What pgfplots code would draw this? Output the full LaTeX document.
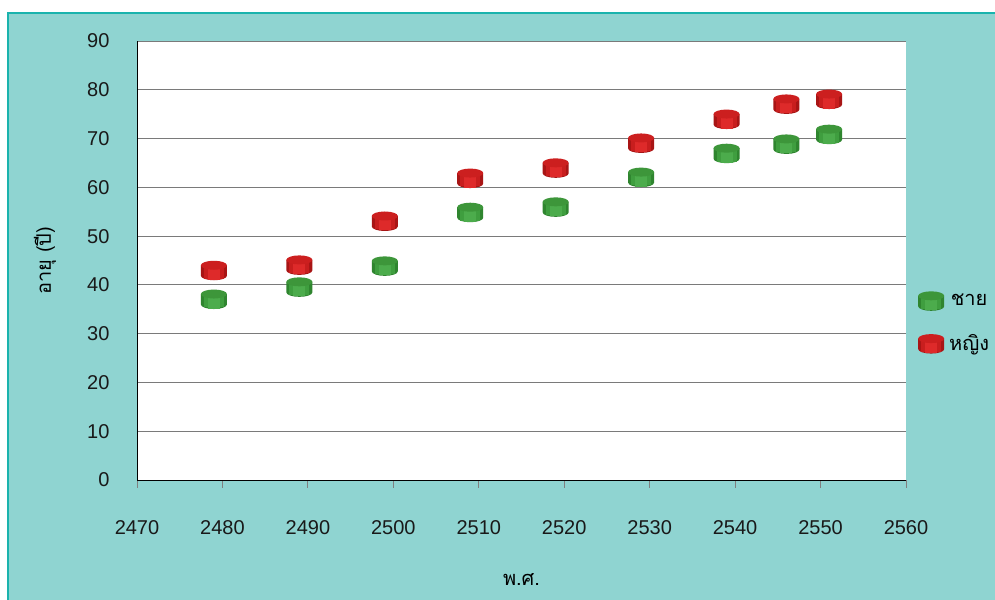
\documentclass[border=0pt]{standalone}
\usepackage{pgfplots}
\pgfplotsset{compat=1.18}
\usepackage{fontspec}
\setmainfont{Liberation Sans}
\newfontfamily\thai[Script=Thai]{Loma}
\definecolor{bgteal}{HTML}{8FD4D1}
\definecolor{frameteal}{HTML}{1AB3AD}
\definecolor{gdark}{HTML}{2F852F}
\definecolor{gmid}{HTML}{3F9E3F}
\definecolor{glight}{HTML}{4CAC4C}
\definecolor{gtop}{HTML}{3D963A}
\definecolor{rdark}{HTML}{A81515}
\definecolor{rmid}{HTML}{C81E1E}
\definecolor{rlight}{HTML}{DE2A2A}
\definecolor{rtop}{HTML}{CC1F1F}
\definecolor{gridgray}{HTML}{7A7A7A}

\pgfdeclareplotmark{cylg}{%
  \pgfsetfillcolor{gdark}%
  \pgfpathmoveto{\pgfpoint{-13bp}{5bp}}%
  \pgfpathlineto{\pgfpoint{-13bp}{-5.5bp}}%
  \pgfpatharc{180}{360}{13bp and 4.5bp}%
  \pgfpathlineto{\pgfpoint{13bp}{5bp}}%
  \pgfpathclose\pgfusepath{fill}%
  \pgfsetfillcolor{gmid}%
  \pgfpathmoveto{\pgfpoint{-10bp}{5bp}}%
  \pgfpathlineto{\pgfpoint{-10bp}{-8.4bp}}%
  \pgfpathlineto{\pgfpoint{10bp}{-8.4bp}}%
  \pgfpathlineto{\pgfpoint{10bp}{5bp}}%
  \pgfpathclose\pgfusepath{fill}%
  \pgfsetfillcolor{glight}%
  \pgfpathrectangle{\pgfpoint{-6bp}{-9.5bp}}{\pgfpoint{12bp}{14.5bp}}%
  \pgfusepath{fill}%
  \pgfsetfillcolor{gtop}%
  \pgfpathellipse{\pgfpoint{0bp}{5bp}}{\pgfpoint{13bp}{0bp}}{\pgfpoint{0bp}{4.5bp}}%
  \pgfusepath{fill}%
}
\pgfdeclareplotmark{cylr}{%
  \pgfsetfillcolor{rdark}%
  \pgfpathmoveto{\pgfpoint{-13bp}{5bp}}%
  \pgfpathlineto{\pgfpoint{-13bp}{-5.5bp}}%
  \pgfpatharc{180}{360}{13bp and 4.5bp}%
  \pgfpathlineto{\pgfpoint{13bp}{5bp}}%
  \pgfpathclose\pgfusepath{fill}%
  \pgfsetfillcolor{rmid}%
  \pgfpathmoveto{\pgfpoint{-10bp}{5bp}}%
  \pgfpathlineto{\pgfpoint{-10bp}{-8.4bp}}%
  \pgfpathlineto{\pgfpoint{10bp}{-8.4bp}}%
  \pgfpathlineto{\pgfpoint{10bp}{5bp}}%
  \pgfpathclose\pgfusepath{fill}%
  \pgfsetfillcolor{rlight}%
  \pgfpathrectangle{\pgfpoint{-6bp}{-9.5bp}}{\pgfpoint{12bp}{14.5bp}}%
  \pgfusepath{fill}%
  \pgfsetfillcolor{rtop}%
  \pgfpathellipse{\pgfpoint{0bp}{5bp}}{\pgfpoint{13bp}{0bp}}{\pgfpoint{0bp}{4.5bp}}%
  \pgfusepath{fill}%
}

\pgfplotstableread{
x y
2479 37.1
2489 39.6
2499 43.9
2509 54.9
2519 56.0
2529 62.1
2539 67.0
2546 68.9
2551 70.9
}\male
\pgfplotstableread{
x y
2479 43.0
2489 44.1
2499 53.1
2509 61.9
2519 64.0
2529 69.1
2539 74.0
2546 77.1
2551 78.1
}\female

\begin{document}
\begin{tikzpicture}
\useasboundingbox (0,0) rectangle (995bp,600bp);
\fill[white] (0,0) rectangle (995bp,600bp);
\fill[bgteal] (8bp,0) rectangle (995bp,587bp);
\draw[frameteal, line width=2bp] (8bp,0) -- (8bp,587bp) -- (995bp,587bp);
\begin{axis}[
  at={(137bp,120bp)}, anchor=south west, scale only axis,
  width=769bp, height=439bp,
  xmin=2470, xmax=2560, ymin=0, ymax=90,
  xtick={2470,2480,...,2560}, ytick={0,10,...,90},
  axis x line=bottom, axis y line=left,
  axis line style={-, black, line width=1bp},
  axis background/.style={fill=white},
  ymajorgrids, grid style={draw=gridgray, line width=1bp},
  xtick align=outside, major tick length=8bp,
  xtick style={draw=gray, line width=1bp},
  ytick style={draw=none},
  tick label style={font=\fontsize{20bp}{24bp}\selectfont, text=black!90},
  xticklabel style={yshift=-29bp},
  yticklabel style={xshift=-20bp},
  /pgf/number format/.cd, 1000 sep={}, assume math mode=true, /pgfplots/.cd,
  xlabel={\thai พ.ศ.},
  xlabel style={at={(rel axis cs:0.5,-0.2278)}, anchor=center, font=\fontsize{20bp}{24bp}\selectfont},
  ylabel={\thai อายุ (ปี)},
  ylabel style={at={(rel axis cs:-0.1196,0.5)}, anchor=center, font=\fontsize{20bp}{24bp}\selectfont},
  legend style={at={(rel axis cs:1.0117,0.358)}, anchor=west, draw=none, fill=none,
    font=\thai\fontsize{20bp}{24bp}\selectfont, row sep=22bp,
    /tikz/every odd column/.append style={column sep=3bp}},
  clip=false,
]
\addplot[only marks, mark=cylg] table[x=x,y=y] {\male};
\addlegendentry{ชาย}
\addplot[only marks, mark=cylr] table[x=x,y=y] {\female};
\addlegendentry{หญิง}
\end{axis}
\end{tikzpicture}
\end{document}
